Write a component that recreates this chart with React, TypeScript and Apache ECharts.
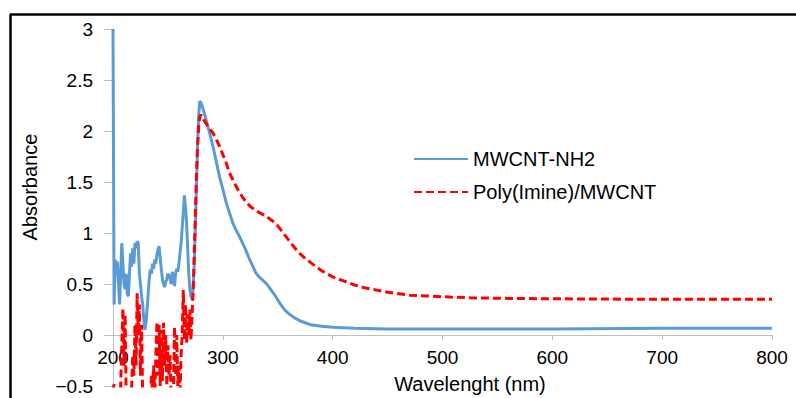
import React, { useEffect, useRef } from "react";
import * as echarts from "echarts";

// MWCNT-NH2 (blue) wavelengths (nm) and absorbance
const blueWavelengths = [
  200, 201, 202, 203, 204, 205, 206, 207, 208, 209, 210, 211, 212, 213, 214, 215, 216, 217, 218, 219,
  220, 221, 222, 223, 224, 225, 226, 227, 228, 229, 230, 231, 232, 233, 234, 235, 236, 237, 238, 239,
  240, 241, 242, 243, 244, 245, 246, 247, 248, 249, 250, 251, 252, 253, 254, 255, 256, 257, 258, 259,
  260, 261, 262, 263, 264, 265, 266, 267, 268, 269, 270, 271, 272, 273, 274, 275, 276, 277, 278, 279,
  280, 281, 283, 285, 288, 291, 294, 297, 300, 303, 306, 309, 312, 315, 318, 321, 324, 327, 330, 333,
  336, 340, 344, 348, 352, 356, 360, 365, 370, 375, 380, 390, 400, 420, 450, 500, 600, 700, 800,
];
const blueAbsorbance = [
  3.0, 0.3, 0.74, 0.6, 0.72, 0.5, 0.3, 0.6, 0.9, 0.7, 0.5, 0.45, 0.6, 0.4, 0.38, 0.6, 0.8, 0.67, 0.85, 0.7,
  0.9, 0.85, 0.92, 0.9, 0.6, 0.5, 0.38, 0.3, 0.15, 0.05, 0.12, 0.25, 0.4, 0.55, 0.64, 0.6, 0.7, 0.65, 0.74, 0.7,
  0.79, 0.84, 0.87, 0.75, 0.64, 0.55, 0.5, 0.47, 0.52, 0.55, 0.6, 0.58, 0.55, 0.5, 0.62, 0.55, 0.48, 0.6, 0.65, 0.62,
  0.7, 0.8, 0.9, 1.05, 1.2, 1.37, 1.25, 1.1, 0.85, 0.6, 0.45, 0.38, 0.35, 0.45, 0.7, 1.05, 1.45, 1.85, 2.15, 2.29,
  2.28, 2.25, 2.18, 2.1, 1.98, 1.85, 1.7, 1.55, 1.43, 1.3, 1.2, 1.1, 1.03, 0.97, 0.9, 0.83, 0.75, 0.68, 0.61, 0.57,
  0.54, 0.5, 0.44, 0.38, 0.31, 0.25, 0.21, 0.17, 0.14, 0.12, 0.1, 0.085, 0.075, 0.065, 0.06, 0.06, 0.06, 0.065, 0.065,
];

// Poly(Imine)/MWCNT (red, dashed) wavelengths (nm) and absorbance
const redWavelengths = [
  200, 201, 202, 203, 204, 205, 206, 207, 208, 209, 210, 211, 212, 213, 214, 215, 216, 217, 218, 219,
  220, 221, 222, 223, 224, 225, 226, 227, 228, 229, 230, 231, 232, 233, 234, 235, 236, 237, 238, 239,
  240, 241, 242, 243, 244, 245, 246, 247, 248, 249, 250, 251, 252, 253, 254, 255, 256, 257, 258, 259,
  260, 261, 262, 263, 264, 265, 266, 267, 268, 269, 270, 271, 272, 273, 274, 275, 276, 277, 278, 279,
  280, 282, 285, 288, 291, 294, 297, 300, 303, 306, 310, 315, 320, 325, 330, 335, 340, 345, 350, 355,
  360, 365, 370, 375, 380, 390, 400, 410, 420, 430, 440, 450, 460, 470, 480, 490, 500, 525, 550, 600,
  650, 700, 750, 800,
];
const redAbsorbance = [
  -0.55, -0.48, -0.7, -0.9, -0.8, -0.9, -0.7, -0.5, -0.1, 0.26, -0.3, 0.2, -0.6, -0.9, -0.8, -0.9, -0.7, -0.5, -0.2, -0.4,
  0.1, -0.3, 0.41, 0.0, 0.3, -0.4, 0.1, -0.6, -0.9, -0.8, -0.9, -0.7, -0.52, -0.8, -0.6, -0.4, -0.55, -0.3, -0.6, -0.2,
  0.13, -0.4, 0.1, -0.5, 0.05, -0.45, 0.12, -0.3, 0.0, -0.5, -0.1, -0.4, -0.2, -0.7, -0.9, -0.6, 0.08, -0.4, 0.0, -0.5,
  -0.3, -0.6, -0.2, 0.0, 0.44, -0.05, 0.3, -0.08, 0.2, 0.0, 0.25, -0.05, 0.2, 0.45, 0.8, 1.2, 1.55, 1.85, 2.05, 2.14,
  2.16, 2.12, 2.07, 2.02, 1.98, 1.92, 1.85, 1.77, 1.69, 1.59, 1.5, 1.4, 1.32, 1.26, 1.22, 1.19, 1.16, 1.12, 1.07, 1.0,
  0.93, 0.86, 0.8, 0.75, 0.71, 0.63, 0.57, 0.53, 0.49, 0.46, 0.44, 0.42, 0.405, 0.39, 0.385, 0.38, 0.375, 0.365, 0.36, 0.355,
  0.352, 0.35, 0.35, 0.35,
];

const xTicks = [200, 300, 400, 500, 600, 700, 800];
const yTicks = [-0.5, 0, 0.5, 1, 1.5, 2, 2.5, 3];

const FONT = "'Liberation Sans', Arial, sans-serif";
const AXIS_GREY = "#bfbfbf";

export default function App() {
  const ref = useRef<HTMLDivElement>(null);

  useEffect(() => {
    if (!ref.current) return;
    const chart = echarts.init(ref.current, undefined, { renderer: "svg" });
    const blueData = blueWavelengths.map((w, i) => [w, blueAbsorbance[i]]);
    const redData = redWavelengths.map((w, i) => [w, redAbsorbance[i]]);

    chart.setOption({
      animation: false,
      backgroundColor: "#ffffff",
      grid: { left: 113, right: 24, top: 29, bottom: 12, containLabel: false, outerBoundsMode: "none" },
      xAxis: {
        type: "value",
        min: xTicks[0],
        max: xTicks[xTicks.length - 1],
        interval: 100,
        axisLine: { show: true, onZero: true, lineStyle: { color: AXIS_GREY, width: 1 } },
        axisTick: { show: true, length: 5, lineStyle: { color: AXIS_GREY } },
        axisLabel: { color: "#000", fontSize: 19, fontFamily: FONT, margin: -38 },
        splitLine: { show: false },
      },
      yAxis: {
        type: "value",
        min: yTicks[0],
        max: yTicks[yTicks.length - 1],
        interval: 0.5,
        axisLine: { show: true, lineStyle: { color: AXIS_GREY, width: 1 } },
        axisTick: { show: true, length: 9, lineStyle: { color: AXIS_GREY } },
        axisLabel: {
          color: "#000",
          fontSize: 19,
          fontFamily: FONT,
          margin: 20,
          formatter: (v: number) => (v < 0 ? "\u2212" + Math.abs(v) : String(v)),
        },
        splitLine: { show: false },
      },
      legend: {
        orient: "vertical",
        left: 408,
        top: 144,
        itemWidth: 54,
        itemHeight: 14,
        itemGap: 13,
        itemStyle: { opacity: 0 },
        textStyle: { color: "#000", fontSize: 20, fontFamily: FONT },
        data: ["MWCNT-NH2", "Poly(Imine)/MWCNT"],
      },
      series: [
        {
          name: "MWCNT-NH2",
          type: "line",
          data: blueData,
          symbol: "none",
          clip: true,
          lineStyle: { color: "#5b9bd5", width: 3 },
          itemStyle: { color: "#5b9bd5" },
          z: 2,
        },
        {
          name: "Poly(Imine)/MWCNT",
          type: "line",
          data: redData,
          symbol: "none",
          clip: true,
          lineStyle: { color: "#ff0000", width: 3, type: [8, 4] },
          itemStyle: { color: "#ff0000" },
          z: 3,
        },
      ],
      graphic: [
        { type: "line", shape: { x1: 10, y1: 14.5, x2: 796, y2: 14.5 }, style: { stroke: "#000", lineWidth: 2.5 } },
        { type: "line", shape: { x1: 10.5, y1: 14, x2: 10.5, y2: 398 }, style: { stroke: "#000", lineWidth: 2.5 } },
        {
          type: "text",
          x: 30,
          y: 187,
          rotation: Math.PI / 2,
          style: {
            text: "Absorbance",
            fill: "#000",
            fontSize: 20,
            fontFamily: FONT,
            align: "center",
            verticalAlign: "middle",
          },
        },
        {
          type: "text",
          x: 470,
          y: 384,
          style: {
            text: "Wavelenght (nm)",
            fill: "#000",
            fontSize: 20,
            fontFamily: FONT,
            align: "center",
            verticalAlign: "middle",
          },
        },
      ],
    });

    return () => chart.dispose();
  }, []);

  return (
    <div
      ref={ref}
      style={{ position: "fixed", left: 0, top: 0, width: 796, height: 398, background: "#fff" }}
    />
  );
}
